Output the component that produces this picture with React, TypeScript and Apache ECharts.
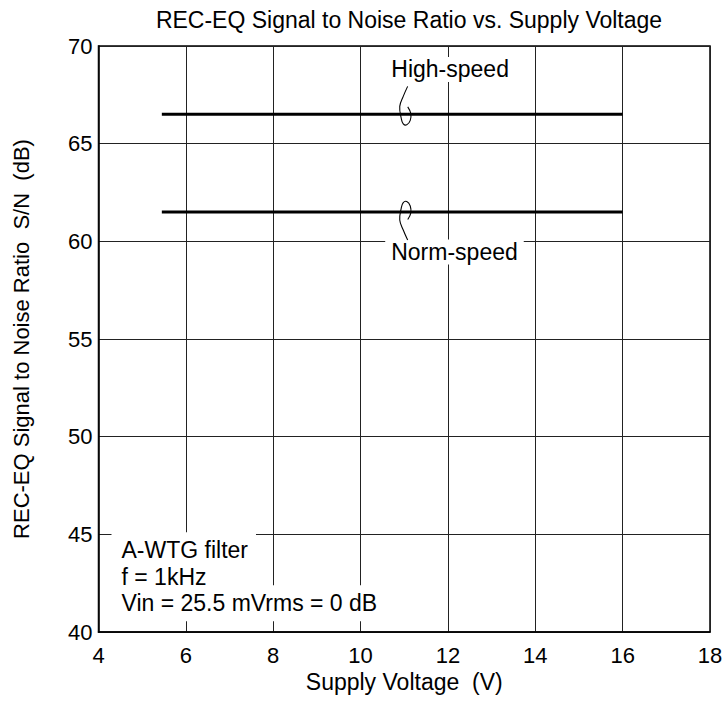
import React, { useEffect, useRef } from "react";
import * as echarts from "echarts";

const TITLE = "REC-EQ Signal to Noise Ratio vs. Supply Voltage";
const X_NAME = "Supply Voltage  (V)";
const Y_NAME = "REC-EQ Signal to Noise Ratio  S/N  (dB)";
const X_MIN = 4, X_MAX = 18, X_STEP = 2;
const Y_MIN = 40, Y_MAX = 70, Y_STEP = 5;

const supplyRange = [5.45, 16];
const highSpeed = [66.5, 66.5];
const normSpeed = [61.5, 61.5];

const conditionLines = ["A-WTG filter", "f = 1kHz", "Vin = 25.5 mVrms = 0 dB"];
const highLabel = { text: "High-speed", x: 12.05, y: 68.8 };
const normLabel = { text: "Norm-speed", x: 12.15, y: 59.45 };
const leaderX = 11;

const FONT = '"Liberation Sans", Arial, Helvetica, sans-serif';

export default function App() {
  const ref = useRef<HTMLDivElement>(null);
  useEffect(() => {
    document.body.style.margin = "0";
    const chart = echarts.init(ref.current!, null, { renderer: "svg" });
    const mk = (ys: number[]) => supplyRange.map((x, i) => [x, ys[i]]);
    chart.setOption({
      animation: false,
      backgroundColor: "#fff",
      textStyle: { fontFamily: FONT },
      title: {
        text: TITLE,
        left: 404,
        textAlign: "center",
        top: 3,
        textStyle: { fontSize: 23, fontWeight: "normal", color: "#000", fontFamily: FONT },
      },
      grid: {
        left: 98.5, right: 16, top: 46, bottom: 70,
        show: true, borderColor: "#000", borderWidth: 1.5, backgroundColor: "transparent",
      },
      xAxis: {
        type: "value", min: X_MIN, max: X_MAX, interval: X_STEP,
        name: X_NAME, nameLocation: "middle", nameGap: 25,
        nameTextStyle: { fontSize: 23, color: "#000", fontFamily: FONT },
        axisLine: { show: true, lineStyle: { color: "#000", width: 1.5 } },
        axisTick: { show: false },
        axisLabel: { fontSize: 22, color: "#000", margin: 12, fontFamily: FONT },
        splitLine: { show: true, lineStyle: { color: "#222", width: 1 } },
      },
      yAxis: {
        type: "value", min: Y_MIN, max: Y_MAX, interval: Y_STEP,
        name: Y_NAME, nameLocation: "middle", nameGap: 66,
        nameTextStyle: { fontSize: 22, color: "#000", fontFamily: FONT },
        axisLine: { show: true, lineStyle: { color: "#000", width: 1.5 } },
        axisTick: { show: false },
        axisLabel: { fontSize: 22, color: "#000", margin: 6, fontFamily: FONT },
        splitLine: { show: true, lineStyle: { color: "#222", width: 1 } },
      },
      series: [
        { name: "High-speed", type: "line", data: mk(highSpeed), showSymbol: false, symbol: "none",
          lineStyle: { color: "#000", width: 3 }, z: 3 },
        { name: "Norm-speed", type: "line", data: mk(normSpeed), showSymbol: false, symbol: "none",
          lineStyle: { color: "#000", width: 3 }, z: 3 },
      ],
    });

    const px = (x: number, y: number) => chart.convertToPixel({ gridIndex: 0 }, [x, y]) as number[];
    const leader = (yVal: number, dir: number) => {
      const [x0, y0] = px(leaderX, yVal);
      const offs = [[3.4, -28], [-1, -18], [-4.5, -8], [-3, 4], [-1, 9.5], [2.5, 10.5], [6, 6], [6.5, -1], [3.5, -7.5]];
      return {
        type: "polyline",
        shape: { points: offs.map(([dx, dy]) => [x0 + dx, y0 + dy * dir]), smooth: 0.4 },
        style: { stroke: "#000", lineWidth: 1.1, fill: null },
        z: 10,
      };
    };
    const label = (l: { text: string; x: number; y: number }) => {
      const [x, y] = px(l.x, l.y);
      return {
        type: "text", x, y, z: 10,
        style: {
          text: l.text, fontSize: 23, fontFamily: FONT, fill: "#000",
          align: "center", verticalAlign: "middle",
          backgroundColor: "#fff", padding: [1, 6],
        },
      };
    };
    const [cx, cy0] = px(X_MIN, 45);
    const condition = conditionLines.map((t, i) => ({
      type: "text", x: cx + 13, y: cy0 + 16 + i * 26.5, z: 10,
      style: {
        text: t, fontSize: 23, fontFamily: FONT, fill: "#000",
        align: "left", verticalAlign: "middle",
        backgroundColor: "#fff", padding: [7, 8, 6, 10],
      },
    }));
    chart.setOption({
      graphic: [
        ...condition,
        label(highLabel),
        label(normLabel),
        leader(highSpeed[0], 1),
        leader(normSpeed[0], -1),
      ],
    });
    return () => chart.dispose();
  }, []);
  return <div ref={ref} style={{ width: 726, height: 702 }} />;
}
